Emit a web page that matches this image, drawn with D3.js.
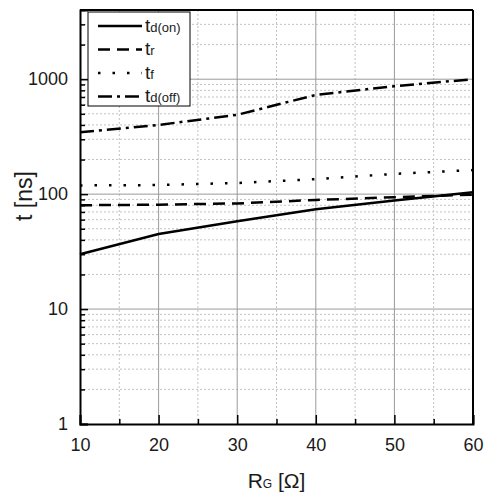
<!DOCTYPE html>
<html>
<head>
<meta charset="utf-8">
<script src="https://cdn.jsdelivr.net/npm/d3@7"></script>
<style>
  body { margin: 0; background: #fff; }
  text { font-family: "Liberation Sans", Arial, sans-serif; fill: #1a1a1a; }
</style>
</head>
<body>
<svg id="chart"></svg>
<script>
// gate resistance values and switching times (ns)
const rg = [10, 20, 30, 40, 50, 60];
const tdOn = [30, 45, 58, 74, 88, 104];
const tr = [80, 81, 83, 89, 94, 99];
const tf = [119, 120, 125, 135, 150, 162];
const tdOff = [345, 400, 490, 730, 870, 1000];

const xTicks = [10, 20, 30, 40, 50, 60];
const xMinor = [15, 25, 35, 45, 55];
const yTicks = [1, 10, 100, 1000];

const series = [
  { main: "t", sub: "d(on)", values: tdOn, dash: null },
  { main: "t", sub: "r", values: tr, dash: "12,7" },
  { main: "t", sub: "f", values: tf, dash: "2.5,12" },
  { main: "t", sub: "d(off)", values: tdOff, dash: "14,5,3,5" }
];

const width = 493;
const height = 495;
const margin = { top: 10, right: 20, bottom: 71, left: 80 };

const svg = d3.select("#chart").attr("width", width).attr("height", height);

const x = d3.scaleLinear()
  .domain([10, 60])
  .range([margin.left, width - margin.right]);

const y = d3.scaleLog()
  .domain([1, 4000])
  .range([height - margin.bottom, margin.top]);

// minor y values 2..9 per decade
const yMinor = [];
[1, 10, 100, 1000].forEach(d => {
  for (let k = 2; k <= 9; k++) if (d * k <= 4000) yMinor.push(d * k);
});

// grid
const grid = svg.append("g");
grid.selectAll(".ym").data(yMinor).enter().append("line")
  .attr("x1", x(10)).attr("x2", x(60))
  .attr("y1", d => y(d)).attr("y2", d => y(d))
  .attr("stroke", "#c2c2c2").attr("stroke-width", 1).attr("stroke-dasharray", "2,2");
grid.selectAll(".xm").data(xMinor).enter().append("line")
  .attr("x1", d => x(d)).attr("x2", d => x(d))
  .attr("y1", y(1)).attr("y2", y(4000))
  .attr("stroke", "#c2c2c2").attr("stroke-width", 1).attr("stroke-dasharray", "2,2");
grid.selectAll(".yM").data([10, 100, 1000]).enter().append("line")
  .attr("x1", x(10)).attr("x2", x(60))
  .attr("y1", d => y(d)).attr("y2", d => y(d))
  .attr("stroke", "#9a9a9a").attr("stroke-width", 1);
grid.selectAll(".xM").data([20, 30, 40, 50]).enter().append("line")
  .attr("x1", d => x(d)).attr("x2", d => x(d))
  .attr("y1", y(1)).attr("y2", y(4000))
  .attr("stroke", "#9a9a9a").attr("stroke-width", 1);

// axes with inward ticks
svg.append("g")
  .attr("transform", `translate(0,${y(1)})`)
  .call(d3.axisBottom(x).tickValues(xTicks).tickSize(-9).tickPadding(14).tickFormat(d3.format("d")));
svg.append("g")
  .attr("transform", `translate(0,${y(1)})`)
  .call(d3.axisBottom(x).tickValues(xMinor).tickSize(-5).tickFormat(""))
  .select(".domain").remove();

svg.append("g")
  .attr("transform", `translate(${x(10)},0)`)
  .call(d3.axisLeft(y).tickValues(yTicks).tickSize(-8).tickPadding(12).tickFormat(d3.format("d")));
svg.append("g")
  .attr("transform", `translate(${x(10)},0)`)
  .call(d3.axisLeft(y).tickValues(yMinor).tickSize(-5).tickFormat(""))
  .select(".domain").remove();

svg.selectAll(".tick line").attr("stroke", "#000").attr("stroke-width", 1.5);
svg.selectAll(".tick text").style("font-size", "18px").attr("fill", "#1a1a1a");
svg.selectAll(".domain").attr("stroke", "#000").attr("stroke-width", 2);

// top and right border
svg.append("line").attr("x1", x(10)).attr("x2", x(60)).attr("y1", y(4000)).attr("y2", y(4000))
  .attr("stroke", "#000").attr("stroke-width", 2);
svg.append("line").attr("x1", x(60)).attr("x2", x(60)).attr("y1", y(4000)).attr("y2", y(1))
  .attr("stroke", "#000").attr("stroke-width", 2);

// series
const line = d3.line()
  .x((d, i) => x(rg[i]))
  .y(d => y(d));

series.forEach(s => {
  svg.append("path")
    .datum(s.values)
    .attr("fill", "none")
    .attr("stroke", "#000")
    .attr("stroke-width", 2.5)
    .attr("stroke-dasharray", s.dash)
    .attr("d", line);
});

// legend
const legend = svg.append("g");
legend.append("rect")
  .attr("x", 88).attr("y", 12).attr("width", 102).attr("height", 94)
  .attr("fill", "#fff").attr("stroke", "#000").attr("stroke-width", 1);

series.forEach((s, i) => {
  const cy = 26 + i * 23.5;
  legend.append("line")
    .attr("x1", 98).attr("x2", 142).attr("y1", cy).attr("y2", cy)
    .attr("stroke", "#000").attr("stroke-width", 2.5)
    .attr("stroke-dasharray", s.dash);
  const t = legend.append("text").attr("x", 145).attr("y", cy + 5.5).style("font-size", "19px");
  t.append("tspan").text(s.main);
  t.append("tspan").style("font-size", "13px").text(s.sub);
});

// axis titles
const xt = svg.append("text")
  .attr("x", (x(10) + x(60)) / 2).attr("y", 488)
  .attr("text-anchor", "middle").style("font-size", "21px");
xt.append("tspan").text("R");
xt.append("tspan").style("font-size", "12px").text("G");
xt.append("tspan").text(" [Ω]");

svg.append("text")
  .attr("transform", `translate(32,196) rotate(-90)`)
  .attr("text-anchor", "middle").style("font-size", "23px")
  .text("t [ns]");
</script>
</body>
</html>
